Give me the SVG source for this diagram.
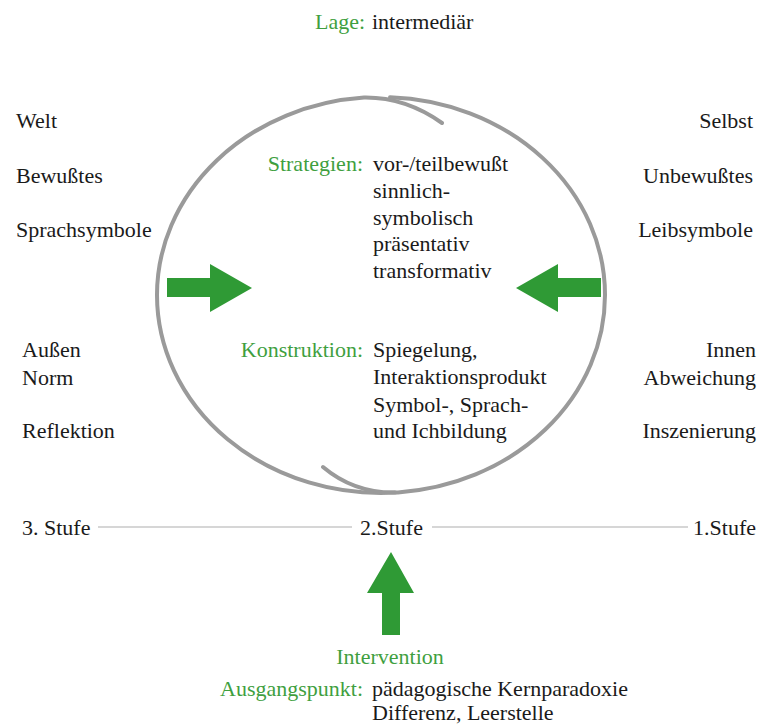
<svg xmlns="http://www.w3.org/2000/svg" width="758" height="724" viewBox="0 0 758 724" font-family="'Liberation Serif', Tinos, 'Times New Roman', 'DejaVu Serif', serif">
<style>
text{font-family:"Liberation Serif",Tinos,"Times New Roman","DejaVu Serif",serif;font-size:22px;fill:#1a1a1a}
.g{fill:#3f9f3f}
.e{text-anchor:end}
.m{text-anchor:middle}
.ring{fill:none;stroke:#9a9a9a;stroke-width:4;stroke-linecap:round}
.arrow{fill:#2f9a35}
.rule{stroke:#c8c8c8;stroke-width:1.5}
</style>
<rect width="758" height="724" fill="#fff"/>
<g id="title"><text class="g" x="315" y="29">Lage:</text><text x="372" y="29">intermediär</text></g>
<g id="left-top"><text x="16" y="128">Welt</text><text x="16" y="183">Bewußtes</text><text x="16" y="237">Sprachsymbole</text></g>
<g id="right-top"><text class="e" x="753" y="128">Selbst</text><text class="e" x="753" y="183">Unbewußtes</text><text class="e" x="753" y="237">Leibsymbole</text></g>
<g id="left-bottom"><text x="22" y="357">Außen</text><text x="22" y="385">Norm</text><text x="22" y="438">Reflektion</text></g>
<g id="right-bottom"><text class="e" x="756" y="357">Innen</text><text class="e" x="756" y="385">Abweichung</text><text class="e" x="756" y="438">Inszenierung</text></g>
<g id="cycle">
<path class="ring" d="M395 492.6 A224 198 0 0 1 157 295 A224 198 0 0 1 364 97.6 Q405 97 442 123"/>
<path class="ring" d="M390 97.2 A224 198 0 0 1 605 295 A224 198 0 0 1 398 492.4 Q355 494 323 467"/>
</g>
<g id="strategien"><text class="g e" x="363" y="171">Strategien:</text>
<text x="373" y="171">vor-/teilbewußt</text><text x="373" y="198">sinnlich-</text><text x="373" y="225">symbolisch</text><text x="373" y="251">präsentativ</text><text x="373" y="278">transformativ</text></g>
<g id="konstruktion"><text class="g e" x="363" y="357">Konstruktion:</text>
<text x="373" y="357">Spiegelung,</text><text x="373" y="384">Interaktionsprodukt</text><text x="373" y="412">Symbol-, Sprach-</text><text x="373" y="438">und Ichbildung</text></g>
<g id="connectors">
<polygon class="arrow" points="167,278 210,278 210,264 252,288 210,312 210,297 167,297"/>
<polygon class="arrow" points="601,278 558,278 558,264 516,288 558,312 558,297 601,297"/>
<polygon class="arrow" points="382,635 382,593 367,593 391,552 414,593 400,593 400,635"/>
<line class="rule" x1="98" y1="527" x2="352" y2="527"/>
<line class="rule" x1="432" y1="527" x2="688" y2="527"/>
</g>
<g id="stufen"><text x="22" y="535">3. Stufe</text><text x="360" y="535">2.Stufe</text><text class="e" x="756" y="535">1.Stufe</text></g>
<g id="intervention"><text class="g m" x="390" y="664">Intervention</text>
<text class="g e" x="363" y="696">Ausgangspunkt:</text><text x="372" y="696">pädagogische Kernparadoxie</text><text x="372" y="720">Differenz, Leerstelle</text></g>
</svg>
